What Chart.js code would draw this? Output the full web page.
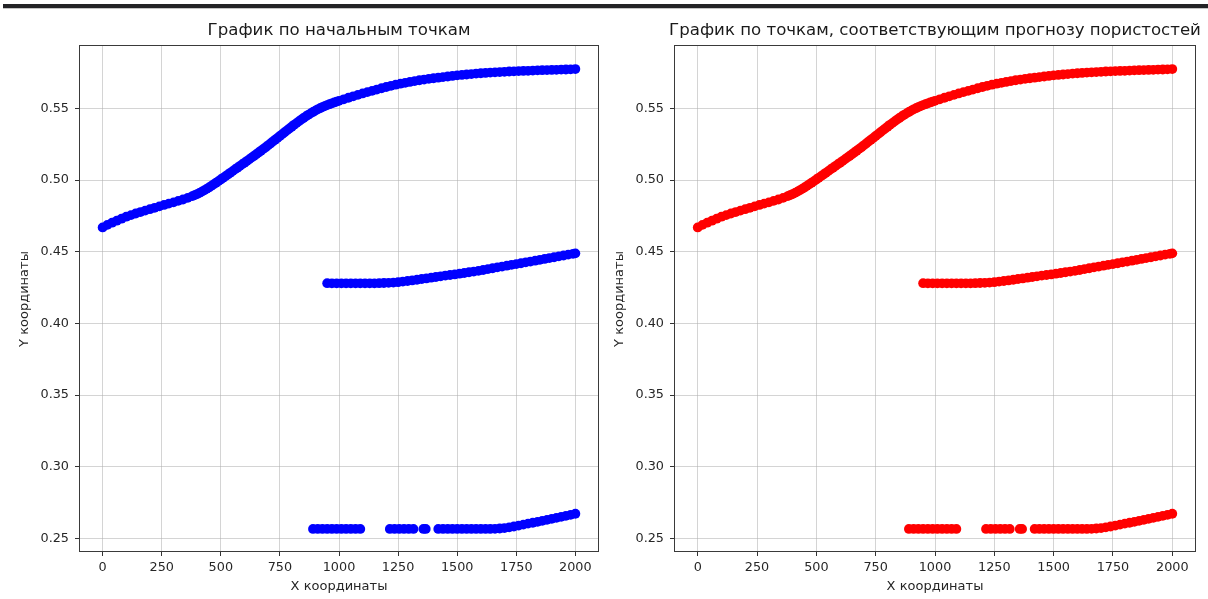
<!DOCTYPE html>
<html>
<head>
<meta charset="utf-8">
<script src="https://cdn.jsdelivr.net/npm/chart.js@4.4.1/dist/chart.umd.min.js"></script>
<style>
  html, body { margin: 0; padding: 0; background: #ffffff; width: 1208px; height: 599px; overflow: hidden; }
  #topbar { position: absolute; left: 3px; right: 0; top: 4px; height: 4px; background: #232326; border-bottom: 1px solid #c4c4c4; }
  canvas { position: absolute; top: 0; }
  #leftPanel { left: 0; }
  #rightPanel { left: 604px; }
</style>
</head>
<body>
<div id="topbar"></div>
<canvas id="leftPanel" width="604" height="599"></canvas>
<canvas id="rightPanel" width="604" height="599"></canvas>
<script>
// Tick positions
const xTicks = [0, 250, 500, 750, 1000, 1250, 1500, 1750, 2000];
const yTicks = [0.25, 0.30, 0.35, 0.40, 0.45, 0.50, 0.55];

// Upper branch (denser sampling where the curve is steep)
const upperX = [0,20,40,60,80,100,120,140,160,180,200,220,240,260,280,300,320,340,360,
  380,390,400,410,420,430,440,450,460,470,480,490,500,510,520,530,540,550,560,570,580,590,
  600,610,620,630,640,650,660,670,680,690,700,710,720,730,740,750,760,770,780,790,
  800,810,820,830,840,850,860,870,880,890,900,910,920,930,940,950,960,970,980,990,1000,
  1020,1040,1060,1080,1100,1120,1140,1160,1180,
  1200,1220,1240,1260,1280,1300,1320,1340,1360,1380,1400,1420,1440,1460,1480,1500,1520,1540,1560,1580,
  1600,1620,1640,1660,1680,1700,1720,1740,1760,1780,1800,1820,1840,1860,1880,1900,1920,1940,1960,1980,2000];
const upperY = [0.4670,0.4688,0.4703,0.4717,0.4731,0.4745,0.4756,0.4767,0.4777,0.4787,
  0.4797,0.4807,0.4817,0.4827,0.4836,0.4845,0.4855,0.4865,0.4876,
  0.4889,0.4896,0.4903,0.4911,0.4920,0.4929,0.4939,0.4949,0.4960,0.4971,0.4982,0.4993,
  0.5005,0.5016,0.5028,0.5039,0.5051,0.5063,0.5075,0.5086,0.5098,0.5110,
  0.5121,0.5133,0.5145,0.5157,0.5169,0.5181,0.5193,0.5205,0.5218,0.5230,
  0.5243,0.5256,0.5269,0.5282,0.5295,0.5308,0.5321,0.5334,0.5347,0.5360,
  0.5373,0.5386,0.5398,0.5410,0.5422,0.5434,0.5445,0.5456,0.5466,0.5476,
  0.5485,0.5494,0.5502,0.5510,0.5517,0.5524,0.5530,0.5536,0.5542,0.5548,0.5553,
  0.5564,0.5575,0.5585,0.5595,0.5605,0.5614,0.5623,0.5632,0.5641,
  0.5650,0.5658,0.5666,0.5673,0.5679,0.5685,0.5691,0.5697,0.5702,0.5707,
  0.5711,0.5715,0.5719,0.5723,0.5727,0.5731,0.5734,0.5737,0.5740,0.5743,
  0.5746,0.5748,0.5750,0.5752,0.5754,0.5756,0.5758,0.5759,0.5761,0.5762,
  0.5763,0.5764,0.5766,0.5767,0.5768,0.5769,0.5770,0.5771,0.5772,0.5773,0.5775];

// Middle branch
const middleX = [950,970,990,1010,1030,1050,1070,1090,1110,1130,1150,1170,1190,1210,1230,1250,1270,1290,1310,1330,
  1350,1370,1390,1410,1430,1450,1470,1490,1510,1530,1550,1570,1590,1610,1630,1650,1670,1690,1710,1730,
  1750,1770,1790,1810,1830,1850,1870,1890,1910,1930,1950,1970,1990,2000];
const middleY = [0.4281,0.4280,0.4280,0.4280,0.4280,0.4280,0.4280,0.4280,0.4280,0.4280,
  0.4280,0.4281,0.4282,0.4283,0.4285,0.4288,0.4292,0.4296,0.4300,0.4305,
  0.4310,0.4314,0.4319,0.4324,0.4329,0.4334,0.4338,0.4342,0.4347,0.4352,
  0.4357,0.4362,0.4367,0.4373,0.4379,0.4385,0.4391,0.4397,0.4403,0.4409,
  0.4414,0.4420,0.4426,0.4432,0.4438,0.4444,0.4450,0.4456,0.4462,0.4468,
  0.4474,0.4480,0.4486,0.4489];

// Lower branch (broken into several runs)
const lowerX = [890,910,930,950,970,990,1010,1030,1050,1070,1090,
  1215,1235,1255,1275,1295,1315,
  1357,1367,
  1420,1440,1460,1480,1500,1520,1540,1560,1580,1600,1620,1640,1660,1680,1700,
  1720,1740,1760,1780,1800,1820,1840,1860,1880,1900,1920,1940,1960,1980,2000];
const lowerY = [0.2566,0.2566,0.2566,0.2566,0.2566,0.2566,0.2566,0.2566,0.2566,0.2566,0.2566,
  0.2566,0.2566,0.2566,0.2566,0.2566,0.2566,
  0.2566,0.2566,
  0.2566,0.2566,0.2566,0.2566,0.2566,0.2566,0.2566,0.2566,0.2566,0.2566,0.2566,0.2566,0.2567,0.2569,0.2572,
  0.2577,0.2583,0.2589,0.2596,0.2603,0.2609,0.2615,0.2622,0.2629,0.2636,0.2643,0.2650,0.2657,0.2664,0.2672];

const FONT = "'DejaVu Sans', sans-serif";

function toPoints(xs, ys) {
  return xs.map((x, i) => ({ x: x, y: ys[i] }));
}

// Panel heading centred over the plotting area
const panelTitle = {
  id: 'panelTitle',
  afterDraw(chart, args, opts) {
    const { ctx, chartArea } = chart;
    ctx.save();
    ctx.font = '16.6px ' + FONT;
    ctx.fillStyle = '#1a1a1a';
    ctx.textAlign = 'center';
    ctx.textBaseline = 'middle';
    ctx.fillText(opts.text, (chartArea.left + chartArea.right) / 2, 31);
    ctx.restore();
  }
};

// Four-sided axes frame
const axesFrame = {
  id: 'axesFrame',
  afterDraw(chart) {
    const { ctx, chartArea } = chart;
    ctx.save();
    ctx.strokeStyle = '#3a3a3a';
    ctx.lineWidth = 1;
    ctx.strokeRect(Math.round(chartArea.left) + 0.5, Math.round(chartArea.top) - 0.5,
      Math.round(chartArea.right - chartArea.left) - 1, Math.round(chartArea.bottom - chartArea.top));
    ctx.restore();
  }
};

function makePanel(canvasId, title, color, yAxisWidth, yTitlePad, rightPad) {
  const series = [
    toPoints(upperX, upperY),
    toPoints(middleX, middleY),
    toPoints(lowerX, lowerY)
  ];
  return new Chart(document.getElementById(canvasId), {
    type: 'scatter',
    data: {
      datasets: series.map(pts => ({
        data: pts,
        backgroundColor: color,
        borderWidth: 0,
        pointRadius: 4.9,
        pointHoverRadius: 4.9
      }))
    },
    options: {
      responsive: false,
      animation: false,
      events: [],
      layout: { padding: { left: 0, right: rightPad, top: 46, bottom: 0 } },
      plugins: {
        legend: { display: false },
        tooltip: { enabled: false },
        title: { display: false },
        panelTitle: { text: title }
      },
      scales: {
        x: {
          type: 'linear',
          min: -100,
          max: 2100,
          z: 1,
          afterBuildTicks: s => { s.ticks = xTicks.map(v => ({ value: v })); },
          afterFit: s => { s.height = 47; },
          border: { display: false },
          grid: { color: 'rgba(176,176,176,0.55)', lineWidth: 1, tickColor: '#333333', tickLength: 4, tickWidth: 1 },
          ticks: { color: '#262626', font: { family: FONT, size: 12.8 }, padding: 4, maxRotation: 0,
                   callback: v => String(v) },
          title: { display: true, text: 'X координаты', color: '#262626',
                   font: { family: FONT, size: 13 }, padding: { top: 0, bottom: 4.5 } }
        },
        y: {
          type: 'linear',
          min: 0.2405,
          max: 0.5936,
          z: 1,
          afterBuildTicks: s => { s.ticks = yTicks.map(v => ({ value: v })); },
          afterFit: s => { s.width = yAxisWidth; },
          border: { display: false },
          grid: { color: 'rgba(176,176,176,0.55)', lineWidth: 1, tickColor: '#333333', tickLength: 4, tickWidth: 1 },
          ticks: { color: '#262626', font: { family: FONT, size: 12.8 }, padding: 6,
                   callback: v => Number(v).toFixed(2) },
          title: { display: true, text: 'Y координаты', color: '#262626',
                   font: { family: FONT, size: 13 }, padding: { top: yTitlePad, bottom: 0 } }
        }
      }
    },
    plugins: [panelTitle, axesFrame]
  });
}

makePanel('leftPanel', 'График по начальным точкам', '#0000ff', 79, 17, 5);
makePanel('rightPanel', 'График по точкам, соответствующим прогнозу пористостей', '#ff0000', 70, 8, 12);
</script>
</body>
</html>
